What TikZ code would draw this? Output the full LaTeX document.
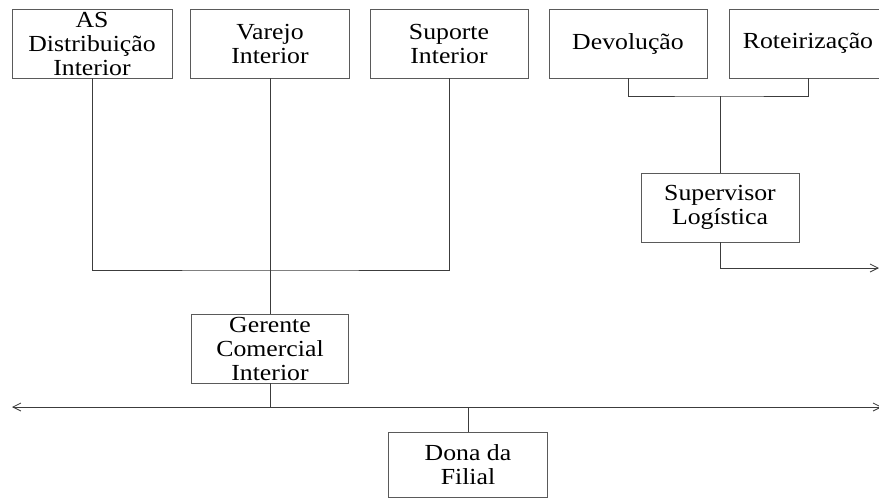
\documentclass[tikz,border=0pt]{standalone}
\usepackage{fontspec}
\setmainfont{Liberation Serif}[FakeStretch=1.12]
\usetikzlibrary{arrows.meta}
\definecolor{linegray}{HTML}{3C3C3C}
\definecolor{boxgray}{HTML}{5A5A5A}
\begin{document}
\begin{tikzpicture}[x=1pt,y=-1pt,
  unit/.style={draw=boxgray,line width=0.9pt,fill=white,minimum width=158pt,
    minimum height=69pt,inner sep=0pt,align=center,
    font=\fontsize{23}{24}\selectfont},
  link/.style={draw=linegray,line width=0.8pt},
  tip/.style={-{Straight Barb[length=8pt,width=8pt,line width=0.8pt]}},
  tips/.style={{Straight Barb[length=8pt,width=8pt,line width=0.8pt]}-{Straight Barb[length=8pt,width=8pt,line width=0.8pt]}}]
\useasboundingbox (0,0) rectangle (879,499);

% top row
\node[unit,minimum width=160pt] (as)  at (92,43.5)  {AS\\Distribuição\\Interior};
\node[unit,minimum width=159pt] (var) at (270,43.5) {Varejo\\Interior};
\node[unit] (sup) at (449,43.5) {Suporte\\Interior};
\node[unit] (dev) at (628,43.5) {Devolução};
\node[unit] (rot) at (808,43.5) {Roteirização};

% middle and bottom
\node[unit] (log) at (720,207.5) {Supervisor\\Logística};
\node[unit,minimum width=157pt] (ger) at (270,348.5) {Gerente\\Comercial\\Interior};
\node[unit,minimum width=159pt,minimum height=65pt] (dona) at (468,464.5) {Dona da\\Filial};

% junction points
\coordinate (bus)   at (270,270);
\coordinate (brk)   at (720,96);
\coordinate (logout) at (879,268);
\coordinate (mainL) at (12,407);
\coordinate (mainR) at (882,407);

% connectors
\draw[link] (as.south) |- (bus) -| (sup.south);
\draw[link] (var.south) -- (ger.north);
\draw[link] (dev.south) |- (brk) -| (rot.south);
\draw[link] (brk) -- (log.north);
\draw[link,tip] (log.south) |- (logout);
\draw[link,tips] (mainL) -- (mainR);
\draw[link] (ger.south) -- (ger.south |- mainL);
\draw[link] (dona.north) -- (dona.north |- mainL);
\end{tikzpicture}
\end{document}
